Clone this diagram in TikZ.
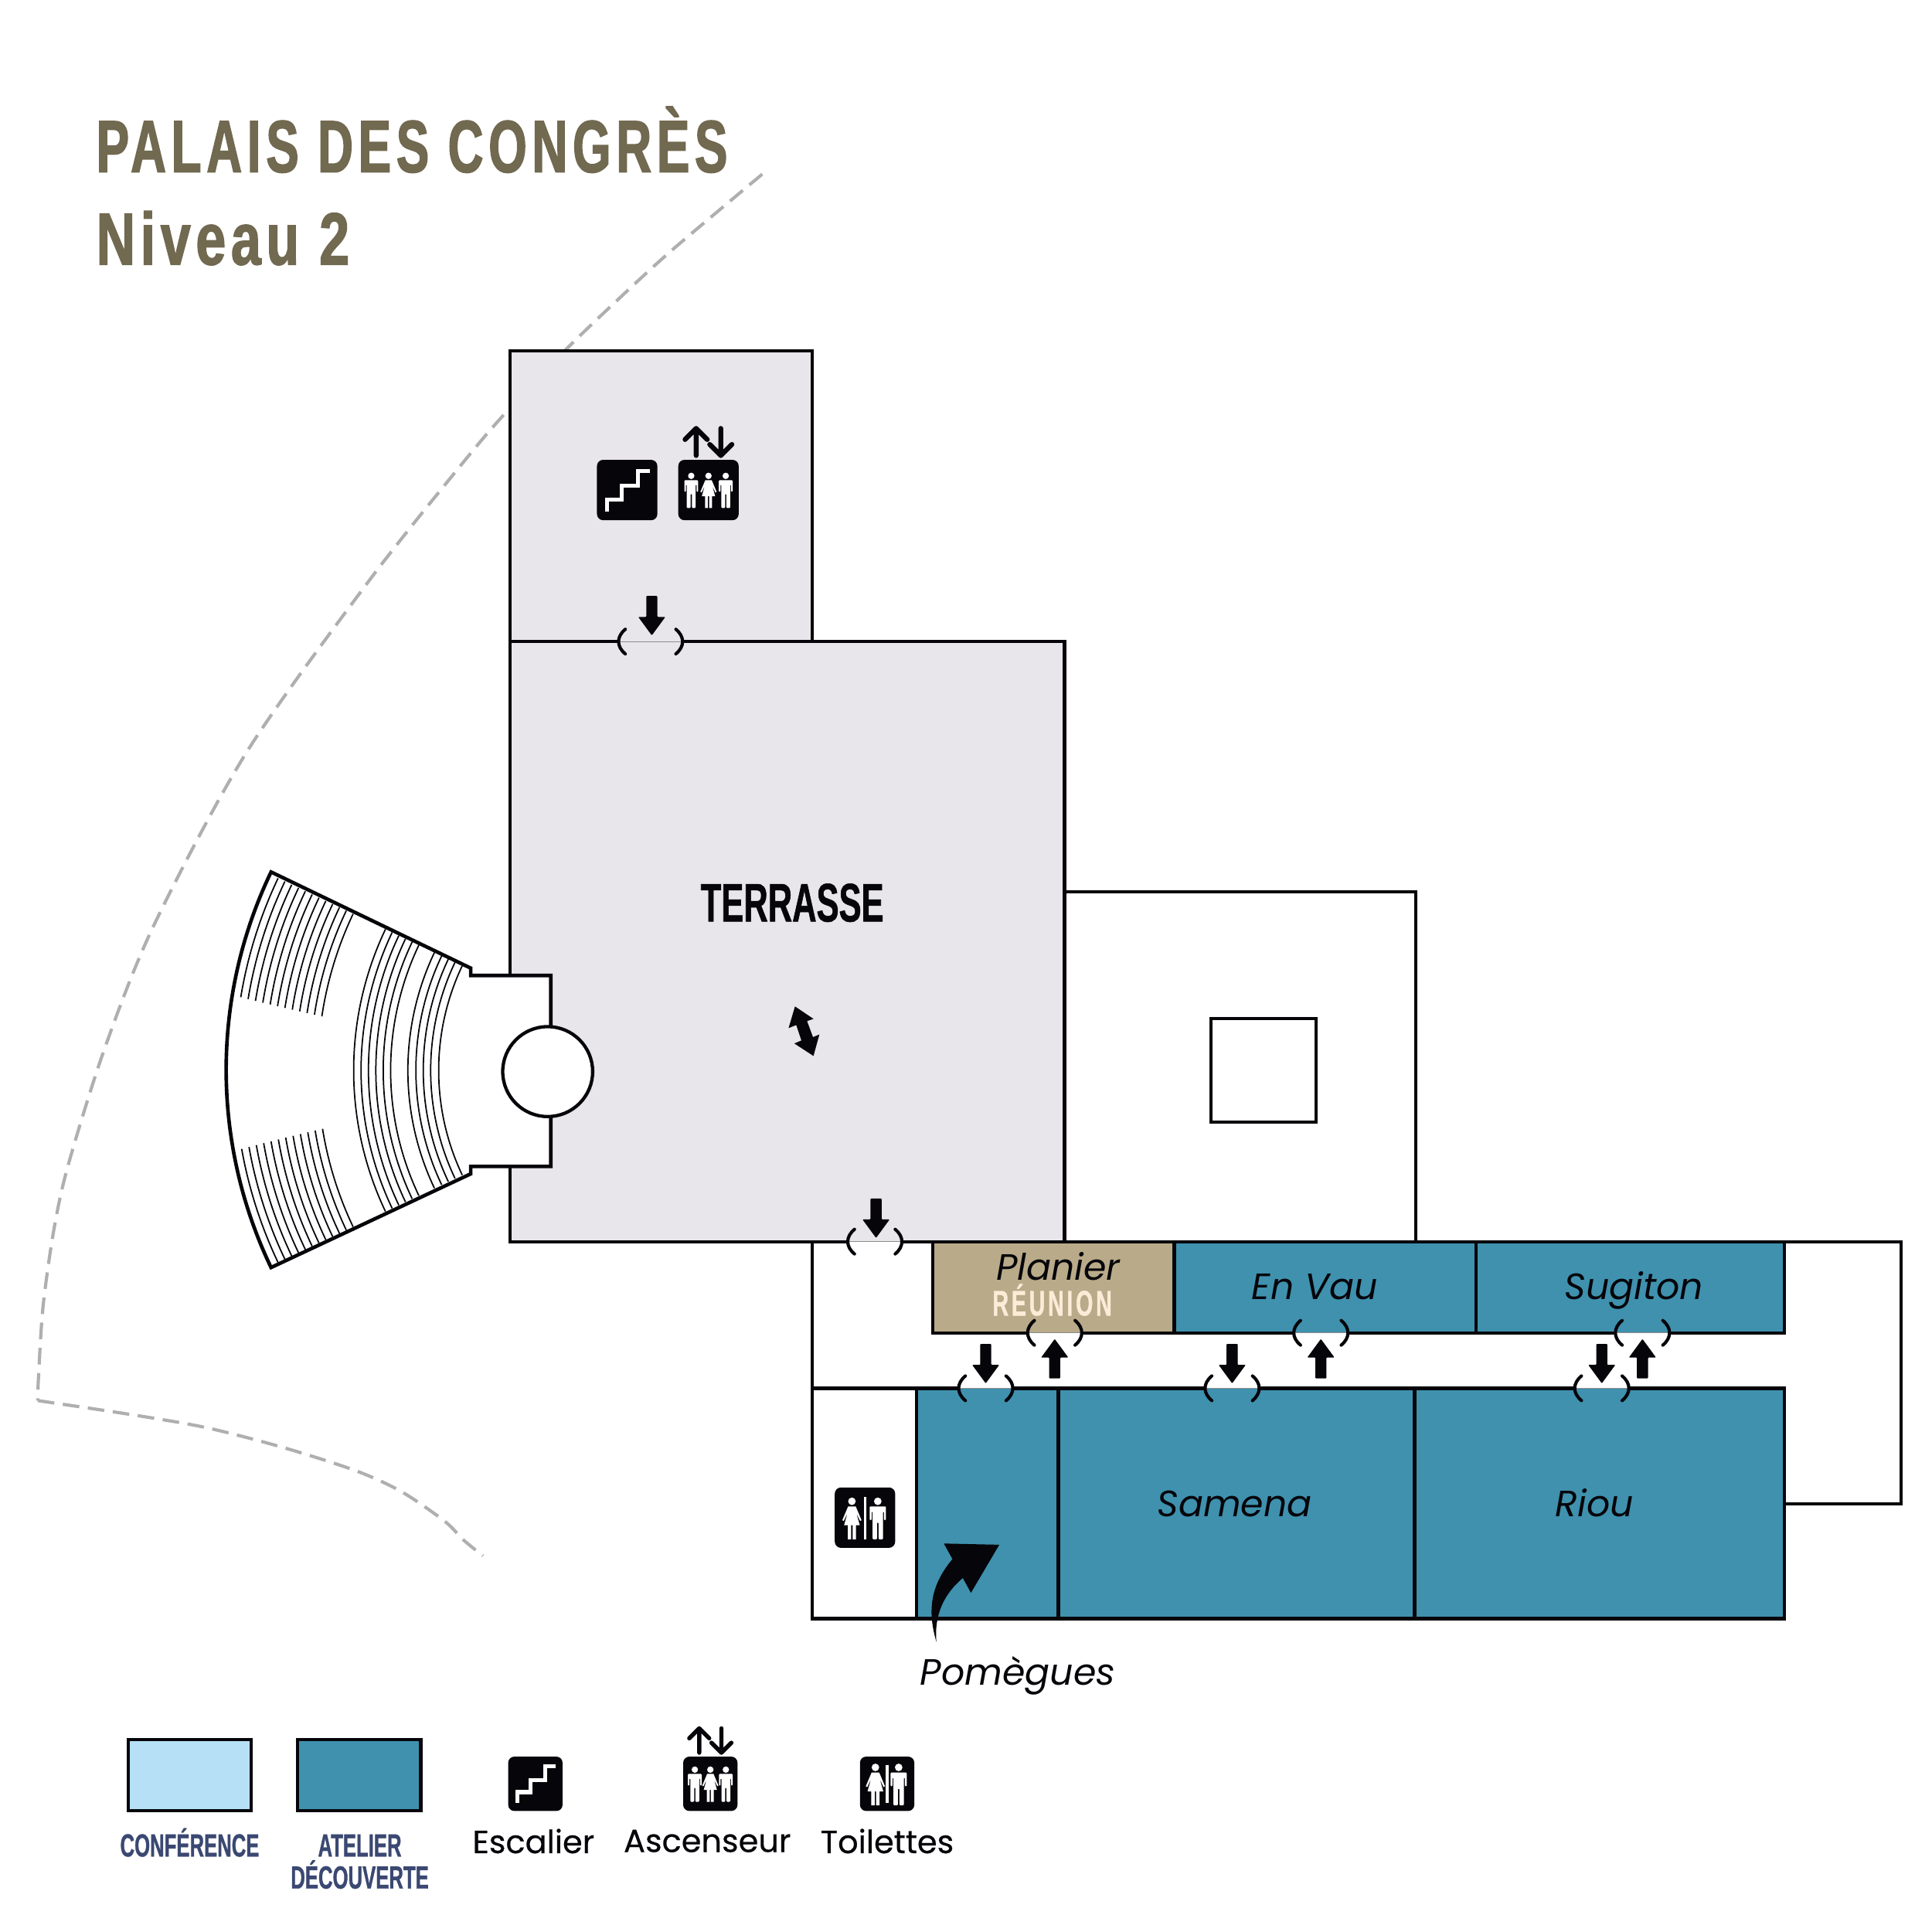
\documentclass[tikz,border=0pt]{standalone}
\usepackage{fontspec}
\usepackage{tikz}
\usetikzlibrary{positioning}
\setmainfont{Poppins}
\newfontfamily\keyfont[FakeBold=.4]{Poppins}
\newfontfamily\condfont[FakeStretch=.62,FakeBold=.8,UprightFont=* Bold]{Liberation Sans}
\newfontfamily\spacedfont[FakeStretch=.62,FakeBold=.8,LetterSpace=8,UprightFont=* Bold]{Liberation Sans}
\newfontfamily\titlefont[FakeStretch=.665,FakeBold=1.5,LetterSpace=7,UprightFont=* Bold]{Liberation Sans}
\newfontfamily\levelfont[FakeStretch=.73,FakeBold=1.5,LetterSpace=7,UprightFont=* Bold]{Liberation Sans}
\definecolor{terrasseGrey}{HTML}{E8E6EA}
\definecolor{atelierBlue}{HTML}{3F91AE}
\definecolor{confBlue}{HTML}{B5E0F6}
\definecolor{reunionTan}{HTML}{B9AA89}
\definecolor{reunionCream}{HTML}{FBEBD7}
\definecolor{titleOlive}{HTML}{716950}
\definecolor{legendNavy}{HTML}{3A4872}
\definecolor{iconBlack}{HTML}{05050A}
\definecolor{siteGrey}{HTML}{AFAFAF}
\tikzstyle{wall}=[draw=iconBlack,line width=2.7pt,line join=miter]
\tikzstyle{site}=[draw=siteGrey,line width=2.6pt,dash pattern=on 13.5pt off 7pt]
\tikzstyle{seat}=[draw=iconBlack,line width=1.1pt]
\tikzstyle{roomlabel}=[anchor=base,font=\fontsize{29.7}{30}\selectfont\itshape,text=iconBlack,inner sep=0pt]
\tikzstyle{keylabel}=[font=\fontsize{26}{28}\selectfont\keyfont,text=iconBlack,inner sep=0pt]
\tikzstyle{keyhead}=[anchor=base,font=\fontsize{26}{26}\selectfont\condfont,text=legendNavy,inner sep=0pt]
\tikzset{
  liftline/.style={line width=4pt},
  downarrow/.pic={\fill[iconBlack,rounded corners=.6pt] (-4.5,-36) -- (4.5,-36) -- (4.5,-19) -- (11,-19) -- (0,-4) -- (-11,-19) -- (-4.5,-19) -- cycle;},
  manfig/.pic={
    \fill[white] (0,-11.5) circle (2.6);
    \fill[white,rounded corners=.7pt] (-5.6,-8) -- (5.6,-8) -- (5.6,1.5) -- (4.3,1.5) -- (4.3,-4.5) -- (3.6,-4.5) -- (3.6,14.6) -- (.5,14.6) -- (.5,3) -- (-.5,3) -- (-.5,14.6) -- (-3.6,14.6) -- (-3.6,-4.5) -- (-4.3,-4.5) -- (-4.3,1.5) -- (-5.6,1.5) -- cycle;},
  womanfig/.pic={
    \fill[white] (0,-11.5) circle (2.6);
    \fill[white] (-2.6,-8) -- (2.6,-8) -- (6.6,1.5) -- (5.6,2) -- (3,-3.5) -- (5.4,5) -- (2.8,5) -- (2.8,14.6) -- (.5,14.6) -- (.5,5) -- (-.5,5) -- (-.5,14.6) -- (-2.8,14.6) -- (-2.8,5) -- (-5.4,5) -- (-3,-3.5) -- (-5.6,2) -- (-6.6,1.5) -- cycle;},
  stairicon/.pic={
    \fill[iconBlack,rounded corners=5pt] (-24.5,-24.5) rectangle (24.5,24.5);
    \draw[white,line width=3.2pt] (-16.3,17.3) -- (-16.3,7.5) -- (-4.2,7.5) -- (-4.2,-3.6) -- (9,-3.6) -- (9,-15.7) -- (18.4,-15.7);},
  lifticon/.pic={
    \fill[iconBlack,rounded corners=5pt] (-24.5,-24.5) rectangle (24.5,24.5);
    \pic at (-14,0) {manfig};
    \pic at (0,0) {womanfig};
    \pic at (14,0) {manfig};
    \draw[iconBlack,liftline,line cap=round,line join=round] (-10,-28) -- (-10,-50) (-19,-41) -- (-10,-50) -- (-1,-41);
    \draw[iconBlack,liftline,line cap=round,line join=round] (10,-50) -- (10,-28) (1,-37) -- (10,-28) -- (19,-37);},
  wcicon/.pic={
    \fill[iconBlack,rounded corners=5pt] (-24.5,-24.5) rectangle (24.5,24.5);
    \pic[scale=1.18] at (-10.6,.3) {womanfig};
    \fill[white] (-1.1,-17) rectangle (1.1,17.6);
    \pic[scale=1.18] at (10.4,.3) {manfig};}
}
\newcommand{\doorgap}[5]{
  \fill[#3] (#1-#5+1,#2-2) rectangle (#1+#5-1,#2);
  \fill[#4] (#1-#5+1,#2) rectangle (#1+#5-1,#2+2);
  \draw[black!45,line width=.4pt] (#1-#5+1,#2) -- (#1+#5-1,#2);
  \draw[iconBlack,line width=2.6pt,line cap=round] (#1-#5+5.5,#2-10) .. controls (#1-#5-1.8,#2-4) and (#1-#5-1.8,#2+4) .. (#1-#5+5.5,#2+10);
  \draw[iconBlack,line width=2.6pt,line cap=round] (#1+#5-5.5,#2-10) .. controls (#1+#5+1.8,#2-4) and (#1+#5+1.8,#2+4) .. (#1+#5-5.5,#2+10);
}
\begin{document}
\begin{tikzpicture}[x=1pt,y=-1pt]
\useasboundingbox (0,-.7) rectangle (1568,1567.3);
\fill[white] (0,-.7) rectangle (1568,1567.3);
\draw[site] plot[smooth,tension=.5] coordinates {(618.6,140.7) (544.8,202.8) (498.8,245) (460,282.3) (412,332.5) (376.4,374) (300,470) (200,610) (125,750) (85,850) (55.3,945) (43.6,998) (34.9,1060) (31.2,1118) (30.7,1136)};
\draw[site] plot[smooth,tension=.5] coordinates {(30.7,1136) (108,1147.6) (167.6,1158) (229.6,1174) (289,1193) (326,1210) (361,1234) (376,1249) (392,1262)};
\draw[wall,fill=terrasseGrey] (414,284) rectangle (659,520);
\draw[wall,fill=terrasseGrey] (414,520) rectangle (864,1007);
\draw[wall,fill=white] (864,723) rectangle (1149,1007);
\draw[wall,fill=white] (983,826) rectangle (1068,910);
\draw[wall,fill=white] (659,1007) -- (659,1313) -- (1448,1313) -- (1448,1220) -- (1543,1220) -- (1543,1007) -- cycle;
\draw[wall] (659,1126) -- (744,1126);
\draw[wall,fill=atelierBlue] (744,1126) rectangle (859,1313);
\draw[wall,fill=atelierBlue] (859,1126) rectangle (1148,1313);
\draw[wall,fill=atelierBlue] (1148,1126) rectangle (1448,1313);
\draw[wall,fill=reunionTan] (757,1007) rectangle (953,1081);
\draw[wall,fill=atelierBlue] (953,1007) rectangle (1198,1081);
\draw[wall,fill=atelierBlue] (1198,1007) rectangle (1448,1081);
\draw[wall,fill=white,line width=2.9pt] (220,707) -- (382,785) -- (382,791) -- (447,791) -- (447,946) -- (382,946) -- (382,952) -- (220,1028) .. controls (171.4,926.6) and (171.4,808.4) .. cycle;
\foreach \r in {267,261,255,249,243,237,223,216.5,210.5,204.5,198}
  \draw[seat] (554,868) ++(154.6:\r) arc (154.6:205.4:\r);
\foreach \r in {0,...,11}
  \draw[seat] (554,868) ++(205.4:363.5-\r*6.13) arc (205.4:189.4-\r*.08:363.5-\r*6.13);
\foreach \r in {0,...,11}
  \draw[seat] (554,868) ++(154.6:363.5-\r*6.13) arc (154.6:169.9+\r*.08:363.5-\r*6.13);
\draw[wall,fill=white] (444.5,869) circle (36.5);
\foreach \x/\y/\a/\b/\w in {528/520/terrasseGrey/terrasseGrey/26,710/1007/terrasseGrey/white/22,856/1081/reunionTan/white/22,800/1126/white/atelierBlue/22,1072/1081/atelierBlue/white/22,1000/1126/white/atelierBlue/22,1333/1081/atelierBlue/white/22,1300/1126/white/atelierBlue/22}
  \doorgap{\x}{\y}{\a}{\b}{\w};
\foreach \x/\y in {529/519,711/1008,800/1126,1000/1126,1300/1126}
  \pic at (\x,\y) {downarrow};
\foreach \x/\y in {856/1082,1072/1082,1333/1082}
  \pic[rotate=180] at (\x,\y) {downarrow};
\fill[iconBlack] (645.2,816.1) -- (660.2,826.2) -- (655,828) -- (659.8,841) -- (665,838.9) -- (660.2,856.3) -- (644.7,846.2) -- (650.4,843.7) -- (646.2,831.2) -- (640,833.7) -- cycle;
\fill[iconBlack] (760,1332) .. controls (752,1305) and (756,1285) .. (773,1264.6) -- (766,1252) -- (811,1253) -- (788,1292) -- (781.4,1280) .. controls (766,1293) and (758,1310) .. (760,1332);
\pic at (509,397) {stairicon};
\pic at (575,397) {lifticon};
\pic at (702,1231) {wcicon};
\node [anchor=base west,inner sep=0pt,text=titleOlive,font=\fontsize{60}{60}\selectfont\titlefont] (title) at (78,139) {PALAIS DES CONGRÈS};
\node [anchor=base west,inner sep=0pt,text=titleOlive,font=\fontsize{60}{60}\selectfont\levelfont] (level) at (78,214) {Niveau 2};
\node [inner sep=0pt,text=iconBlack,font=\fontsize{44}{46}\selectfont\condfont] (terrasse) at (643,732) {TERRASSE};
\node [roomlabel] (planier) at (859,1038) {Planier};
\node [anchor=base,inner sep=0pt,text=reunionCream,font=\fontsize{29}{30}\selectfont\spacedfont] (reunion) at (854,1067) {RÉUNION};
\node [roomlabel] (envau) at (1067,1054) {En Vau};
\node [roomlabel] (sugiton) at (1326,1054) {Sugiton};
\node [roomlabel] (samena) at (1002,1230) {Samena};
\node [roomlabel] (riou) at (1294,1230) {Riou};
\node [roomlabel] (pomegues) at (826,1367) {Pomègues};
\draw[wall,fill=confBlue] (104,1411) rectangle (204,1469);
\draw[wall,fill=atelierBlue] (241.5,1411) rectangle (341.5,1469);
\pic[scale=.9] at (434.5,1447) {stairicon};
\pic[scale=.9,liftline/.style={line width=3.4pt}] at (576.5,1447) {lifticon};
\pic[scale=.9] at (720,1447) {wcicon};
\node [keyhead] (conf) at (154,1506) {CONFÉRENCE};
\node [keyhead] (atelier) at (292,1506) {ATELIER};
\node [keyhead] (decouverte) at (292,1532) {DÉCOUVERTE};
\node [keylabel] (escalier) at (433,1493.5) {Escalier};
\node [keylabel] (ascenseur) at (574,1493.5) {Ascenseur};
\node [keylabel] (toilettes) at (720,1493.5) {Toilettes};
\end{tikzpicture}
\end{document}
